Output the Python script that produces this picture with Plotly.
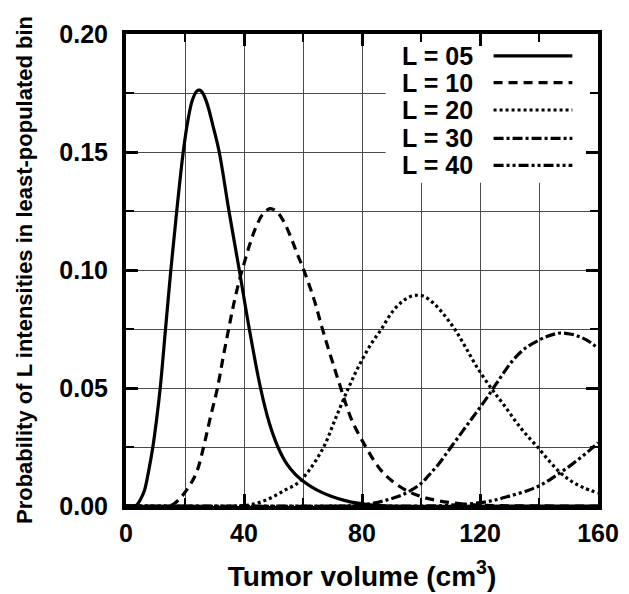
import plotly.graph_objects as go

# values (x = tumor volume, y = probability)
vol_l05 = [0, 2, 3.5, 5, 6.3, 7.7, 9.1, 10.4, 11.6, 13.4, 15.2, 17.2, 19.4, 21.0, 22.5,
           24.0, 25.0, 26.0, 27.5, 29.5, 31.6, 34.9, 38.4, 41.8, 45.6, 48.5, 51.5, 54.5,
           57.4, 60, 63, 66, 70, 74, 78, 82, 86, 90, 160]
prob_l05 = [0, 0, 0.0003, 0.003, 0.0068, 0.015, 0.025, 0.037, 0.05, 0.075, 0.10, 0.125,
            0.15, 0.1635, 0.172, 0.1758, 0.1762, 0.175, 0.1705, 0.161, 0.15, 0.125, 0.10,
            0.075, 0.05, 0.0355, 0.025, 0.0178, 0.0134, 0.0106, 0.008, 0.006, 0.0039,
            0.0024, 0.0013, 0.0006, 0.0002, 0, 0]

vol_l10 = [0, 14, 16, 18, 20, 22, 24, 26.3, 28.5, 31, 33, 34.8, 36.5, 38.3, 40.2, 42, 44,
           46.3, 48.8, 51, 53.5, 56, 58, 59.8, 62, 64, 66.4, 69.5, 72.8, 76.5, 81.3, 86,
           90, 95, 100, 106, 113, 120, 130, 160]
prob_l10 = [0, 0, 0.0007, 0.0028, 0.0058, 0.0095, 0.0145, 0.025, 0.037, 0.05, 0.0635,
            0.075, 0.0855, 0.095, 0.1035, 0.111, 0.118, 0.1235, 0.126, 0.1248, 0.1205,
            0.1135, 0.107, 0.1015, 0.094, 0.0865, 0.0758, 0.063, 0.05, 0.0365, 0.025,
            0.0158, 0.0108, 0.0066, 0.004, 0.0022, 0.001, 0.0004, 0.0001, 0]

vol_l20 = [0, 38, 42, 46, 50, 54, 58, 62, 67, 71, 75.4, 79, 83, 86.6, 90, 93.5, 96.5,
           98.8, 101, 104, 107.5, 111.4, 115, 119, 124.3, 128, 132, 135.5, 139.5, 143.5,
           147.5, 151, 155, 160]
prob_l20 = [0, 0, 0.0005, 0.0018, 0.004, 0.0068, 0.0095, 0.015, 0.025, 0.037, 0.05,
            0.0595, 0.0685, 0.075, 0.0818, 0.0865, 0.0888, 0.0893, 0.0888, 0.0862, 0.0815,
            0.075, 0.0675, 0.0588, 0.049, 0.043, 0.036, 0.0305, 0.025, 0.019, 0.0138,
            0.0105, 0.0078, 0.0055]

vol_l30 = [0, 72, 78, 84, 88, 92.2, 96, 100, 102.5, 106, 110.2, 114, 117.5, 121, 124.3,
           127.5, 131, 135, 140, 143.5, 147.3, 151, 154.6, 157.5, 160]
prob_l30 = [0, 0, 0.0003, 0.0012, 0.0024, 0.004, 0.0062, 0.0095, 0.0128, 0.0178, 0.025,
            0.0315, 0.0375, 0.0435, 0.0495, 0.0555, 0.0615, 0.0665, 0.0703, 0.0722,
            0.0733, 0.0728, 0.0713, 0.0693, 0.0667]

vol_l40 = [0, 100, 108, 114, 120, 125, 130, 136, 140, 143.5, 146.8, 150.5, 154.6, 157.5, 160]
prob_l40 = [0, 0, 0.0002, 0.0007, 0.0014, 0.0025, 0.0042, 0.0065, 0.0085, 0.011, 0.0138,
            0.017, 0.021, 0.024, 0.0268]

labels = ["L = 05", "L = 10", "L = 20", "L = 30", "L = 40"]
dashes = ["solid", "9px,6px", "3px,3px", "10px,3px,3px,3px", "10px,3px,3px,3px,3px,3px"]
series = [(vol_l05, prob_l05), (vol_l10, prob_l10), (vol_l20, prob_l20),
          (vol_l30, prob_l30), (vol_l40, prob_l40)]

FONT = "Liberation Sans, Arial, Helvetica, sans-serif"

fig = go.Figure()
for (xs, ys), name, dash in zip(series, labels, dashes):
    fig.add_trace(go.Scatter(
        x=xs, y=ys, name=name, mode="lines",
        line=dict(color="black", width=3.2, dash=dash, shape="spline", smoothing=1.0),
        showlegend=False,
    ))

# white panel behind the legend, covering the grid
fig.add_shape(type="rect", xref="x", yref="y", x0=88, x1=160, y0=0.137, y1=0.2,
              fillcolor="white", line_width=0, layer="between")

# hand-made legend: text on the left, line sample on the right
row_y = [0.1907, 0.1794, 0.1678, 0.1558, 0.1443]
for name, dash, yy in zip(labels, dashes, row_y):
    fig.add_annotation(x=93, y=yy, xref="x", yref="y", text="<b>%s</b>" % name,
                       showarrow=False, xanchor="left", yanchor="middle",
                       font=dict(family=FONT, size=25, color="black"))
    fig.add_shape(type="line", xref="x", yref="y", x0=124.6, x1=151.3, y0=yy, y1=yy,
                  line=dict(color="black", width=3.2, dash=dash), layer="above")

grid = "#4a4a4a"
tick_font = dict(family=FONT, size=25, color="black", weight="bold")

fig.update_xaxes(
    range=[0, 160], tickvals=[0, 40, 80, 120, 160], ticks="inside", ticklen=12,
    tickwidth=3, tickcolor="black", showline=True, linewidth=4, linecolor="black",
    mirror="ticks", showgrid=True, gridcolor=grid, gridwidth=1, zeroline=False,
    minor=dict(dtick=20, ticks="inside", ticklen=8, tickwidth=2, tickcolor="black",
               showgrid=True, gridcolor=grid, gridwidth=1),
    tickfont=tick_font, ticklabelstandoff=2, automargin=False,
    title=dict(text="<b>Tumor volume (cm<sup>3</sup>)</b>", standoff=21,
               font=dict(family=FONT, size=28, color="black")),
)
fig.update_yaxes(
    range=[0, 0.2], tickvals=[0, 0.05, 0.10, 0.15, 0.20], tickformat=".2f",
    ticks="inside", ticklen=12, tickwidth=3, tickcolor="black", showline=True,
    linewidth=4, linecolor="black", mirror="ticks", showgrid=True, gridcolor=grid,
    gridwidth=1, zeroline=False,
    minor=dict(dtick=0.025, ticks="inside", ticklen=8, tickwidth=2, tickcolor="black",
               showgrid=True, gridcolor=grid, gridwidth=1),
    tickfont=tick_font, ticklabelstandoff=9, automargin=False,
    title=dict(text="<b>Probability of L intensities in least-populated bin</b>",
               standoff=22, font=dict(family=FONT, size=22, color="black")),
)

# the page body adds an 8px margin, so the figure is 8px smaller on each side
fig.update_layout(
    width=621, height=586, margin=dict(l=118, r=31, t=26, b=88),
    paper_bgcolor="white", plot_bgcolor="white", showlegend=False,
)

fig.write_html("out.html")
